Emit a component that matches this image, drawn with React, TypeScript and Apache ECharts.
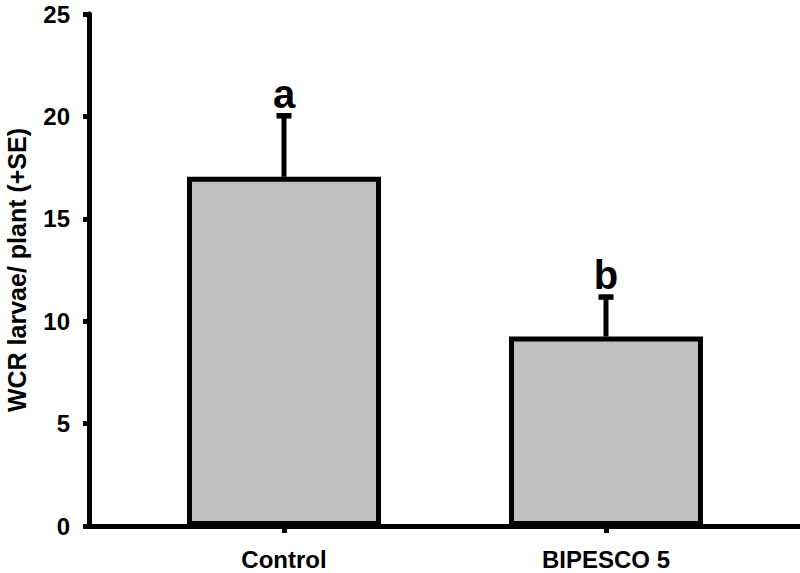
import React, { useEffect, useRef } from "react";
import * as echarts from "echarts";

const categories = ["Control", "BIPESCO 5"];
const means = [17.05, 9.25];
const errors = [2.98, 1.93];
const letters = ["a", "b"];
const yMin = 0;
const yMax = 25;
const yInterval = 5;

const FONT = '"Liberation Sans", Arial, sans-serif';

export default function App() {
  const ref = useRef<HTMLDivElement>(null);

  useEffect(() => {
    if (!ref.current) return;
    const chart = echarts.init(ref.current, null, { renderer: "svg" });
    const positions = categories.map((_, i) => i);

    chart.setOption({
      animation: false,
      backgroundColor: "#ffffff",
      grid: {
        left: 89,
        right: 0,
        top: 14,
        bottom: 47,
        containLabel: false,
        outerBoundsMode: "none",
      },
      xAxis: {
        type: "value",
        min: -0.6056,
        max: 1.6025,
        splitLine: { show: false },
        axisLine: { show: true, onZero: false, lineStyle: { color: "#000", width: 5 } },
        axisTick: {
          show: true,
          customValues: positions,
          length: 7,
          lineStyle: { color: "#000", width: 5 },
        },
        axisLabel: {
          customValues: positions,
          formatter: (v: number) => categories[Math.round(v)] ?? "",
          margin: 21,
          color: "#000",
          fontSize: 24,
          fontWeight: "bold",
          fontFamily: FONT,
        },
      },
      yAxis: {
        type: "value",
        min: yMin,
        max: yMax,
        interval: yInterval,
        name: "WCR larvae/ plant (+SE)",
        nameLocation: "middle",
        nameGap: 60,
        nameRotate: 90,
        nameTextStyle: {
          color: "#000",
          fontSize: 25,
          fontWeight: "bold",
          fontFamily: FONT,
        },
        splitLine: { show: false },
        axisLine: { show: true, onZero: false, lineStyle: { color: "#000", width: 5 } },
        axisTick: { show: true, length: 6, lineStyle: { color: "#000", width: 5 } },
        axisLabel: {
          margin: 19,
          color: "#000",
          fontSize: 24,
          fontWeight: "bold",
          fontFamily: FONT,
        },
      },
      series: [
        {
          type: "bar",
          data: positions.map((p, i) => [p, means[i]]),
          barWidth: 194,
          itemStyle: { color: "#c0c0c0", borderColor: "#000", borderWidth: 5 },
          z: 2,
        },
        {
          type: "custom",
          data: positions.map((p, i) => [p, means[i], errors[i]]),
          z: 3,
          renderItem: (params: any, api: any) => {
            const x = api.value(0);
            const m = api.value(1);
            const e = api.value(2);
            const base = api.coord([x, m]);
            const top = api.coord([x, m + e]);
            return {
              type: "group",
              children: [
                {
                  type: "line",
                  shape: { x1: base[0], y1: base[1], x2: top[0], y2: top[1] },
                  style: { stroke: "#000", lineWidth: 5 },
                },
                {
                  type: "line",
                  shape: { x1: top[0] - 7.5, y1: top[1], x2: top[0] + 7.5, y2: top[1] },
                  style: { stroke: "#000", lineWidth: 5.5 },
                },
                {
                  type: "text",
                  x: top[0],
                  y: top[1] - 2,
                  style: {
                    text: letters[params.dataIndex],
                    fill: "#000",
                    fontSize: 40,
                    fontWeight: "bold",
                    fontFamily: FONT,
                    align: "center",
                    verticalAlign: "bottom",
                  },
                },
              ],
            };
          },
        },
      ],
    });

    return () => chart.dispose();
  }, []);

  return <div ref={ref} style={{ width: 800, height: 573, position: "absolute", left: 0, top: 0 }} />;
}
